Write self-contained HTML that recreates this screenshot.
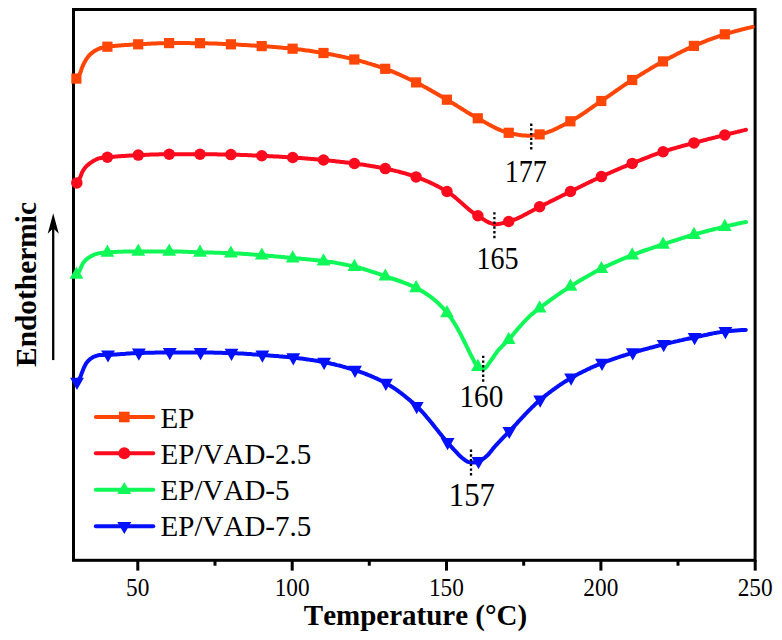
<!DOCTYPE html>
<html><head><meta charset="utf-8"><title>DSC curves</title>
<style>
html,body{margin:0;padding:0;background:#fff;}
body{width:782px;height:640px;position:relative;overflow:hidden;font-family:"Liberation Serif",serif;}
svg text{font-family:"Liberation Serif",serif;fill:#000;font-kerning:none;}
svg text.b{font-weight:bold;}
</style></head><body>
<svg width="782" height="640" viewBox="0 0 782 640" style="position:absolute;left:0;top:0">
<rect width="782" height="640" fill="#fff"/>
<rect x="73.5" y="9.5" width="681.6" height="550.8" fill="none" stroke="#000" stroke-width="3"/>
<rect x="136.3" y="560" width="3" height="10.6" fill="#000"/>
<rect x="290.7" y="560" width="3" height="10.6" fill="#000"/>
<rect x="445.0" y="560" width="3" height="10.6" fill="#000"/>
<rect x="599.4" y="560" width="3" height="10.6" fill="#000"/>
<rect x="753.7" y="560" width="3" height="10.6" fill="#000"/>
<rect x="213.5" y="560" width="3" height="5.7" fill="#000"/>
<rect x="367.8" y="560" width="3" height="5.7" fill="#000"/>
<rect x="522.2" y="560" width="3" height="5.7" fill="#000"/>
<rect x="676.5" y="560" width="3" height="5.7" fill="#000"/>
<text transform="translate(137.7,596.1) scale(0.935,1)" font-size="24.9" text-anchor="middle" class="s">50</text>
<text transform="translate(292.1,596.1) scale(0.935,1)" font-size="24.9" text-anchor="middle" class="s">100</text>
<text transform="translate(446.4,596.1) scale(0.935,1)" font-size="24.9" text-anchor="middle" class="s">150</text>
<text transform="translate(600.8,596.1) scale(0.935,1)" font-size="24.9" text-anchor="middle" class="s">200</text>
<text transform="translate(755.1,596.1) scale(0.935,1)" font-size="24.9" text-anchor="middle" class="s">250</text>
<path d="M76.4,78.6 L77.4,77.4 L78.3,76.2 L79.1,74.9 L79.8,73.6 L80.5,72.3 L81.0,70.9 L81.4,69.4 L81.9,68.0 L82.5,66.6 L83.1,65.2 L83.7,63.9 L84.4,62.5 L85.2,61.2 L85.9,59.9 L86.7,58.6 L87.6,57.4 L88.5,56.2 L89.5,55.1 L90.6,54.0 L91.7,53.1 L92.9,52.1 L94.2,51.3 L95.5,50.5 L96.8,49.8 L98.1,49.1 L99.5,48.5 L100.9,48.0 L102.4,47.6 L103.8,47.3 L105.3,47.0 L106.8,46.8 L108.3,46.6 L109.8,46.4 L111.3,46.3 L112.8,46.1 L114.3,46.0 L115.8,45.8 L117.3,45.7 L118.8,45.5 L120.3,45.4 L121.8,45.3 L123.3,45.2 L124.8,45.1 L126.3,45.0 L127.8,44.9 L129.3,44.8 L130.8,44.7 L132.3,44.6 L133.8,44.5 L135.3,44.5 L136.8,44.4 L138.3,44.3 L139.8,44.2 L141.3,44.1 L142.8,44.1 L144.3,44.0 L145.8,43.9 L147.3,43.8 L148.8,43.7 L150.3,43.7 L151.8,43.6 L153.3,43.5 L154.8,43.5 L156.3,43.4 L157.8,43.3 L159.3,43.3 L160.8,43.2 L162.3,43.2 L163.8,43.2 L165.3,43.1 L166.8,43.1 L168.3,43.1 L169.8,43.1 L171.3,43.1 L172.9,43.1 L174.4,43.1 L175.9,43.1 L177.4,43.1 L178.9,43.1 L180.4,43.1 L181.9,43.1 L183.4,43.1 L184.9,43.1 L186.4,43.1 L187.9,43.1 L189.4,43.1 L190.9,43.2 L192.4,43.2 L193.9,43.2 L195.4,43.2 L196.9,43.2 L198.4,43.2 L199.9,43.2 L201.4,43.2 L202.9,43.2 L204.4,43.3 L205.9,43.3 L207.4,43.3 L208.9,43.4 L210.4,43.4 L211.9,43.5 L213.4,43.5 L215.0,43.6 L216.5,43.6 L218.0,43.7 L219.5,43.8 L221.0,43.8 L222.5,43.9 L224.0,44.0 L225.5,44.1 L227.0,44.1 L228.5,44.2 L230.0,44.3 L231.5,44.3 L233.0,44.4 L234.5,44.5 L236.0,44.5 L237.5,44.6 L239.0,44.7 L240.5,44.8 L242.0,44.9 L243.5,44.9 L245.0,45.0 L246.5,45.1 L248.0,45.2 L249.5,45.3 L251.0,45.4 L252.5,45.5 L254.0,45.6 L255.5,45.7 L257.0,45.8 L258.5,45.9 L260.0,46.0 L261.5,46.1 L263.0,46.2 L264.5,46.3 L266.0,46.4 L267.5,46.5 L269.0,46.6 L270.5,46.7 L272.0,46.8 L273.5,47.0 L275.0,47.1 L276.5,47.2 L278.0,47.3 L279.5,47.5 L281.0,47.6 L282.5,47.7 L284.0,47.9 L285.5,48.0 L287.0,48.1 L288.5,48.3 L290.0,48.4 L291.5,48.6 L293.0,48.7 L294.5,48.9 L296.0,49.1 L297.5,49.2 L298.9,49.4 L300.4,49.6 L301.9,49.8 L303.4,50.0 L304.9,50.2 L306.4,50.4 L307.9,50.6 L309.4,50.8 L310.9,51.0 L312.4,51.2 L313.9,51.5 L315.3,51.7 L316.8,51.9 L318.3,52.2 L319.8,52.4 L321.3,52.6 L322.8,52.9 L324.2,53.1 L325.7,53.4 L327.2,53.7 L328.7,53.9 L330.2,54.2 L331.6,54.5 L333.1,54.8 L334.6,55.1 L336.1,55.4 L337.5,55.7 L339.0,56.0 L340.5,56.3 L342.0,56.6 L343.4,56.9 L344.9,57.3 L346.4,57.6 L347.8,57.9 L349.3,58.3 L350.8,58.6 L352.2,59.0 L353.7,59.3 L355.1,59.7 L356.6,60.1 L358.0,60.4 L359.5,60.8 L360.9,61.2 L362.4,61.6 L363.9,62.0 L365.3,62.4 L366.8,62.8 L368.2,63.3 L369.6,63.7 L371.1,64.1 L372.5,64.6 L374.0,65.0 L375.4,65.5 L376.8,65.9 L378.3,66.4 L379.7,66.9 L381.1,67.4 L382.5,67.9 L383.9,68.4 L385.4,68.9 L386.8,69.4 L388.2,69.9 L389.6,70.4 L391.0,71.0 L392.4,71.5 L393.7,72.1 L395.1,72.7 L396.5,73.3 L397.9,73.9 L399.3,74.5 L400.7,75.1 L402.0,75.7 L403.4,76.4 L404.8,77.0 L406.1,77.6 L407.5,78.3 L408.9,78.9 L410.2,79.6 L411.6,80.2 L412.9,80.9 L414.3,81.6 L415.6,82.2 L417.0,82.9 L418.3,83.6 L419.6,84.2 L421.0,84.9 L422.3,85.6 L423.6,86.4 L424.9,87.1 L426.3,87.8 L427.6,88.5 L428.9,89.3 L430.2,90.0 L431.5,90.7 L432.8,91.5 L434.1,92.2 L435.4,93.0 L436.7,93.8 L438.0,94.5 L439.3,95.3 L440.6,96.0 L441.9,96.8 L443.2,97.6 L444.5,98.3 L445.8,99.1 L447.1,99.8 L448.4,100.6 L449.7,101.4 L451.0,102.1 L452.3,102.9 L453.6,103.7 L454.8,104.5 L456.1,105.3 L457.4,106.1 L458.7,106.9 L460.0,107.7 L461.2,108.5 L462.5,109.3 L463.8,110.1 L465.1,110.9 L466.3,111.7 L467.6,112.5 L468.9,113.2 L470.2,114.0 L471.5,114.8 L472.8,115.5 L474.1,116.3 L475.4,117.0 L476.7,117.7 L478.0,118.4 L479.4,119.1 L480.7,119.9 L482.0,120.6 L483.4,121.4 L484.7,122.1 L486.0,122.9 L487.3,123.6 L488.7,124.4 L490.0,125.1 L491.4,125.8 L492.7,126.5 L494.1,127.2 L495.4,127.9 L496.8,128.6 L498.2,129.2 L499.6,129.8 L500.9,130.4 L502.3,130.9 L503.7,131.4 L505.1,131.9 L506.5,132.3 L508.0,132.7 L509.4,133.0 L510.8,133.3 L512.3,133.6 L513.8,133.9 L515.2,134.2 L516.7,134.5 L518.2,134.8 L519.7,135.0 L521.2,135.2 L522.7,135.4 L524.3,135.6 L525.8,135.6 L527.3,135.7 L528.7,135.7 L530.3,135.6 L531.8,135.5 L533.3,135.3 L534.8,135.1 L536.3,134.9 L537.8,134.7 L539.2,134.4 L540.7,134.2 L542.1,133.9 L543.5,133.5 L545.0,133.1 L546.4,132.7 L547.8,132.2 L549.2,131.7 L550.6,131.1 L552.0,130.6 L553.4,130.0 L554.8,129.3 L556.2,128.7 L557.6,128.0 L559.0,127.3 L560.3,126.6 L561.7,125.9 L563.0,125.2 L564.4,124.5 L565.7,123.8 L567.1,123.1 L568.4,122.3 L569.7,121.7 L571.0,121.0 L572.4,120.3 L573.7,119.5 L574.9,118.8 L576.2,118.0 L577.5,117.2 L578.8,116.5 L580.0,115.6 L581.3,114.8 L582.6,114.0 L583.8,113.2 L585.1,112.3 L586.3,111.5 L587.5,110.6 L588.8,109.7 L590.0,108.9 L591.3,108.0 L592.5,107.1 L593.7,106.2 L595.0,105.4 L596.2,104.5 L597.4,103.6 L598.7,102.8 L599.9,101.9 L601.2,101.1 L602.4,100.2 L603.7,99.4 L604.9,98.6 L606.2,97.7 L607.4,96.9 L608.6,96.0 L609.9,95.1 L611.1,94.3 L612.3,93.4 L613.6,92.6 L614.8,91.7 L616.0,90.8 L617.3,90.0 L618.5,89.1 L619.7,88.3 L621.0,87.4 L622.2,86.6 L623.5,85.7 L624.7,84.9 L626.0,84.0 L627.2,83.2 L628.5,82.4 L629.7,81.5 L631.0,80.7 L632.2,79.9 L633.5,79.1 L634.8,78.3 L636.0,77.5 L637.3,76.7 L638.6,75.9 L639.9,75.1 L641.1,74.3 L642.4,73.5 L643.7,72.7 L645.0,71.9 L646.3,71.1 L647.6,70.4 L648.9,69.6 L650.1,68.8 L651.4,68.0 L652.7,67.3 L654.0,66.5 L655.3,65.8 L656.6,65.0 L657.9,64.3 L659.3,63.5 L660.6,62.8 L661.9,62.1 L663.2,61.3 L664.5,60.6 L665.8,59.9 L667.1,59.2 L668.5,58.5 L669.8,57.8 L671.1,57.1 L672.5,56.4 L673.8,55.7 L675.1,55.0 L676.5,54.3 L677.8,53.6 L679.2,52.9 L680.5,52.2 L681.8,51.5 L683.2,50.9 L684.6,50.2 L685.9,49.6 L687.3,48.9 L688.6,48.3 L690.0,47.7 L691.4,47.1 L692.7,46.5 L694.1,45.9 L695.5,45.3 L696.9,44.7 L698.3,44.1 L699.6,43.5 L701.0,43.0 L702.4,42.4 L703.8,41.8 L705.2,41.3 L706.6,40.7 L708.0,40.2 L709.4,39.6 L710.9,39.1 L712.3,38.6 L713.7,38.1 L715.1,37.6 L716.5,37.1 L717.9,36.6 L719.4,36.1 L720.8,35.6 L722.2,35.1 L723.7,34.7 L725.1,34.2 L726.5,33.8 L728.0,33.4 L729.4,32.9 L730.8,32.5 L732.3,32.1 L733.7,31.7 L735.2,31.3 L736.6,30.9 L738.1,30.5 L739.5,30.1 L741.0,29.7 L742.4,29.3 L743.9,29.0 L745.4,28.6 L746.8,28.2 L748.3,27.9 L749.8,27.6 L751.2,27.2 L752.7,26.9" fill="none" stroke="#FF4606" stroke-width="4.0" stroke-linejoin="round" stroke-linecap="round"/>
<rect x="71.3" y="73.5" width="10.2" height="10.2" fill="#FF4606"/>
<rect x="102.3" y="41.6" width="10.2" height="10.2" fill="#FF4606"/>
<rect x="133.1" y="39.2" width="10.2" height="10.2" fill="#FF4606"/>
<rect x="164.0" y="38.0" width="10.2" height="10.2" fill="#FF4606"/>
<rect x="194.9" y="38.1" width="10.2" height="10.2" fill="#FF4606"/>
<rect x="225.8" y="39.2" width="10.2" height="10.2" fill="#FF4606"/>
<rect x="256.6" y="41.0" width="10.2" height="10.2" fill="#FF4606"/>
<rect x="287.5" y="43.6" width="10.2" height="10.2" fill="#FF4606"/>
<rect x="318.4" y="47.9" width="10.2" height="10.2" fill="#FF4606"/>
<rect x="349.2" y="54.4" width="10.2" height="10.2" fill="#FF4606"/>
<rect x="380.1" y="63.7" width="10.2" height="10.2" fill="#FF4606"/>
<rect x="411.0" y="77.3" width="10.2" height="10.2" fill="#FF4606"/>
<rect x="441.8" y="94.6" width="10.2" height="10.2" fill="#FF4606"/>
<rect x="472.7" y="113.2" width="10.2" height="10.2" fill="#FF4606"/>
<rect x="503.6" y="127.7" width="10.2" height="10.2" fill="#FF4606"/>
<rect x="534.5" y="129.3" width="10.2" height="10.2" fill="#FF4606"/>
<rect x="565.3" y="116.2" width="10.2" height="10.2" fill="#FF4606"/>
<rect x="596.2" y="95.9" width="10.2" height="10.2" fill="#FF4606"/>
<rect x="627.1" y="74.9" width="10.2" height="10.2" fill="#FF4606"/>
<rect x="657.9" y="56.3" width="10.2" height="10.2" fill="#FF4606"/>
<rect x="688.8" y="40.8" width="10.2" height="10.2" fill="#FF4606"/>
<rect x="719.7" y="29.2" width="10.2" height="10.2" fill="#FF4606"/>
<path d="M76.8,182.9 L77.7,181.7 L78.5,180.4 L79.3,179.1 L80.0,177.8 L80.6,176.4 L81.1,175.0 L81.6,173.5 L82.2,172.2 L82.9,170.9 L83.7,169.6 L84.6,168.3 L85.5,167.2 L86.6,166.1 L87.7,165.1 L88.9,164.1 L90.0,163.2 L91.3,162.3 L92.5,161.5 L93.8,160.7 L95.2,160.0 L96.5,159.3 L97.9,158.7 L99.3,158.3 L100.8,158.0 L102.3,157.7 L103.8,157.5 L105.3,157.3 L106.8,157.2 L108.3,157.1 L109.8,157.0 L111.3,156.9 L112.8,156.8 L114.3,156.7 L115.8,156.6 L117.3,156.5 L118.8,156.3 L120.3,156.2 L121.8,156.1 L123.3,156.0 L124.8,155.9 L126.3,155.8 L127.8,155.7 L129.3,155.6 L130.8,155.5 L132.3,155.4 L133.8,155.3 L135.3,155.2 L136.8,155.2 L138.3,155.1 L139.8,155.0 L141.3,155.0 L142.9,154.9 L144.4,154.9 L145.9,154.8 L147.4,154.7 L148.9,154.7 L150.4,154.6 L151.9,154.6 L153.4,154.5 L154.9,154.5 L156.4,154.4 L157.9,154.4 L159.4,154.3 L160.9,154.3 L162.4,154.3 L163.9,154.2 L165.4,154.2 L166.9,154.2 L168.4,154.2 L169.9,154.2 L171.5,154.2 L173.0,154.2 L174.5,154.2 L176.0,154.2 L177.5,154.2 L179.0,154.2 L180.5,154.2 L182.0,154.2 L183.5,154.2 L185.0,154.2 L186.5,154.2 L188.0,154.2 L189.5,154.2 L191.0,154.2 L192.5,154.2 L194.0,154.2 L195.5,154.2 L197.1,154.2 L198.6,154.2 L200.1,154.2 L201.6,154.2 L203.1,154.2 L204.6,154.2 L206.1,154.2 L207.6,154.2 L209.1,154.2 L210.6,154.3 L212.1,154.3 L213.6,154.3 L215.1,154.3 L216.6,154.3 L218.1,154.4 L219.6,154.4 L221.1,154.4 L222.6,154.4 L224.2,154.5 L225.7,154.5 L227.2,154.5 L228.7,154.6 L230.2,154.6 L231.7,154.6 L233.2,154.6 L234.7,154.7 L236.2,154.7 L237.7,154.8 L239.2,154.8 L240.7,154.9 L242.2,154.9 L243.7,155.0 L245.2,155.1 L246.7,155.1 L248.2,155.2 L249.7,155.2 L251.2,155.3 L252.7,155.4 L254.3,155.5 L255.8,155.5 L257.3,155.6 L258.8,155.7 L260.3,155.7 L261.8,155.8 L263.3,155.9 L264.8,155.9 L266.3,156.0 L267.8,156.1 L269.3,156.2 L270.8,156.2 L272.3,156.3 L273.8,156.4 L275.3,156.5 L276.8,156.5 L278.3,156.6 L279.8,156.7 L281.3,156.8 L282.8,156.9 L284.3,157.0 L285.8,157.1 L287.3,157.2 L288.8,157.3 L290.3,157.3 L291.8,157.4 L293.3,157.5 L294.9,157.6 L296.4,157.7 L297.9,157.9 L299.4,158.0 L300.9,158.1 L302.4,158.2 L303.9,158.3 L305.4,158.4 L306.9,158.5 L308.4,158.7 L309.9,158.8 L311.4,158.9 L312.9,159.0 L314.4,159.2 L315.9,159.3 L317.4,159.4 L318.9,159.6 L320.4,159.7 L321.9,159.8 L323.4,160.0 L324.9,160.1 L326.4,160.3 L327.9,160.4 L329.4,160.6 L330.9,160.7 L332.4,160.9 L333.9,161.0 L335.4,161.2 L336.8,161.4 L338.3,161.5 L339.8,161.7 L341.3,161.9 L342.8,162.0 L344.3,162.2 L345.8,162.4 L347.3,162.6 L348.8,162.8 L350.3,163.0 L351.8,163.2 L353.3,163.4 L354.8,163.6 L356.3,163.8 L357.8,164.0 L359.3,164.2 L360.8,164.4 L362.2,164.6 L363.7,164.8 L365.2,165.0 L366.7,165.3 L368.2,165.5 L369.7,165.8 L371.2,166.0 L372.7,166.2 L374.2,166.5 L375.6,166.8 L377.1,167.0 L378.6,167.3 L380.1,167.6 L381.6,167.9 L383.0,168.1 L384.5,168.4 L386.0,168.7 L387.4,169.0 L388.9,169.4 L390.4,169.7 L391.9,170.0 L393.3,170.4 L394.8,170.7 L396.3,171.1 L397.7,171.4 L399.2,171.8 L400.7,172.2 L402.1,172.6 L403.6,173.0 L405.0,173.4 L406.5,173.8 L407.9,174.3 L409.4,174.7 L410.8,175.2 L412.2,175.6 L413.7,176.1 L415.1,176.6 L416.5,177.0 L417.9,177.5 L419.3,178.0 L420.7,178.6 L422.1,179.1 L423.5,179.7 L424.9,180.3 L426.3,180.9 L427.7,181.5 L429.1,182.1 L430.5,182.7 L431.8,183.4 L433.2,184.0 L434.6,184.7 L435.9,185.4 L437.3,186.1 L438.6,186.8 L440.0,187.5 L441.3,188.2 L442.6,188.9 L443.9,189.7 L445.2,190.4 L446.5,191.2 L447.7,191.9 L449.0,192.7 L450.2,193.6 L451.4,194.5 L452.6,195.4 L453.8,196.3 L455.0,197.2 L456.1,198.2 L457.3,199.2 L458.4,200.2 L459.6,201.2 L460.7,202.2 L461.9,203.2 L463.0,204.3 L464.1,205.3 L465.3,206.3 L466.4,207.3 L467.6,208.3 L468.7,209.3 L469.9,210.2 L471.1,211.2 L472.3,212.1 L473.5,213.0 L474.7,213.8 L475.9,214.7 L477.2,215.4 L478.5,216.2 L479.8,217.0 L481.1,217.8 L482.4,218.7 L483.7,219.5 L485.1,220.4 L486.5,221.2 L487.8,221.9 L489.2,222.6 L490.6,223.2 L492.0,223.6 L493.4,224.0 L494.8,224.2 L496.3,224.2 L497.7,224.1 L499.2,223.9 L500.7,223.6 L502.2,223.3 L503.7,222.9 L505.2,222.5 L506.7,222.1 L508.1,221.7 L509.5,221.3 L510.9,220.9 L512.3,220.4 L513.7,219.9 L515.1,219.3 L516.5,218.8 L517.9,218.2 L519.2,217.5 L520.6,216.9 L522.0,216.2 L523.3,215.5 L524.6,214.8 L526.0,214.1 L527.3,213.4 L528.7,212.6 L530.0,211.9 L531.3,211.2 L532.7,210.4 L534.0,209.7 L535.4,209.0 L536.7,208.3 L538.1,207.6 L539.4,206.9 L540.8,206.3 L542.1,205.6 L543.5,205.0 L544.8,204.3 L546.2,203.6 L547.5,203.0 L548.9,202.3 L550.2,201.6 L551.6,200.9 L552.9,200.3 L554.3,199.6 L555.6,198.9 L556.9,198.2 L558.3,197.6 L559.6,196.9 L561.0,196.2 L562.3,195.5 L563.7,194.9 L565.0,194.2 L566.4,193.5 L567.7,192.9 L569.1,192.2 L570.4,191.5 L571.8,190.9 L573.1,190.2 L574.5,189.5 L575.8,188.9 L577.2,188.2 L578.5,187.5 L579.9,186.9 L581.2,186.2 L582.6,185.5 L583.9,184.9 L585.3,184.2 L586.6,183.5 L588.0,182.9 L589.3,182.2 L590.7,181.6 L592.1,180.9 L593.4,180.3 L594.8,179.6 L596.1,179.0 L597.5,178.3 L598.9,177.7 L600.2,177.1 L601.6,176.5 L603.0,175.8 L604.4,175.2 L605.7,174.6 L607.1,174.0 L608.5,173.4 L609.9,172.8 L611.2,172.2 L612.6,171.6 L614.0,171.0 L615.4,170.4 L616.8,169.8 L618.2,169.2 L619.5,168.6 L620.9,168.0 L622.3,167.4 L623.7,166.9 L625.1,166.3 L626.5,165.7 L627.9,165.1 L629.3,164.6 L630.7,164.0 L632.1,163.5 L633.5,162.9 L634.9,162.3 L636.3,161.8 L637.7,161.2 L639.1,160.6 L640.5,160.1 L641.9,159.5 L643.3,159.0 L644.7,158.4 L646.1,157.9 L647.5,157.3 L648.9,156.8 L650.3,156.2 L651.7,155.7 L653.1,155.2 L654.5,154.7 L655.9,154.2 L657.4,153.7 L658.8,153.2 L660.2,152.7 L661.6,152.2 L663.1,151.7 L664.5,151.3 L665.9,150.8 L667.3,150.4 L668.8,149.9 L670.2,149.5 L671.7,149.0 L673.1,148.6 L674.6,148.2 L676.0,147.8 L677.5,147.4 L678.9,147.0 L680.4,146.6 L681.8,146.2 L683.3,145.8 L684.7,145.4 L686.2,145.0 L687.6,144.6 L689.1,144.2 L690.5,143.8 L692.0,143.4 L693.5,143.0 L694.9,142.6 L696.4,142.2 L697.8,141.9 L699.3,141.5 L700.7,141.1 L702.2,140.7 L703.6,140.3 L705.1,140.0 L706.6,139.6 L708.0,139.2 L709.5,138.8 L710.9,138.5 L712.4,138.1 L713.9,137.7 L715.3,137.4 L716.8,137.0 L718.2,136.6 L719.7,136.3 L721.2,135.9 L722.6,135.5 L724.1,135.2 L725.5,134.8 L727.0,134.4 L728.5,134.1 L729.9,133.7 L731.4,133.3 L732.8,133.0 L734.3,132.6 L735.8,132.2 L737.2,131.9 L738.7,131.5 L740.2,131.2 L741.6,130.8 L743.1,130.4 L744.5,130.1 L746.0,129.7" fill="none" stroke="#FC0A1E" stroke-width="4.0" stroke-linejoin="round" stroke-linecap="round"/>
<circle cx="76.8" cy="182.9" r="5.75" fill="#FC0A1E"/>
<circle cx="107.4" cy="157.2" r="5.75" fill="#FC0A1E"/>
<circle cx="138.3" cy="155.1" r="5.75" fill="#FC0A1E"/>
<circle cx="169.2" cy="154.2" r="5.75" fill="#FC0A1E"/>
<circle cx="200.0" cy="154.2" r="5.75" fill="#FC0A1E"/>
<circle cx="230.9" cy="154.6" r="5.75" fill="#FC0A1E"/>
<circle cx="261.8" cy="155.8" r="5.75" fill="#FC0A1E"/>
<circle cx="292.7" cy="157.5" r="5.75" fill="#FC0A1E"/>
<circle cx="323.5" cy="160.0" r="5.75" fill="#FC0A1E"/>
<circle cx="354.4" cy="163.5" r="5.75" fill="#FC0A1E"/>
<circle cx="385.3" cy="168.6" r="5.75" fill="#FC0A1E"/>
<circle cx="416.1" cy="176.9" r="5.75" fill="#FC0A1E"/>
<circle cx="447.0" cy="191.5" r="5.75" fill="#FC0A1E"/>
<circle cx="477.9" cy="215.8" r="5.75" fill="#FC0A1E"/>
<circle cx="508.7" cy="221.5" r="5.75" fill="#FC0A1E"/>
<circle cx="539.6" cy="206.8" r="5.75" fill="#FC0A1E"/>
<circle cx="570.5" cy="191.5" r="5.75" fill="#FC0A1E"/>
<circle cx="601.4" cy="176.6" r="5.75" fill="#FC0A1E"/>
<circle cx="632.2" cy="163.4" r="5.75" fill="#FC0A1E"/>
<circle cx="663.1" cy="151.7" r="5.75" fill="#FC0A1E"/>
<circle cx="694.0" cy="142.9" r="5.75" fill="#FC0A1E"/>
<circle cx="724.8" cy="135.0" r="5.75" fill="#FC0A1E"/>
<path d="M76.5,274.3 L77.7,273.3 L78.7,272.2 L79.4,271.0 L80.1,269.6 L80.7,268.2 L81.3,266.8 L81.9,265.4 L82.6,264.0 L83.3,262.8 L84.2,261.6 L85.3,260.5 L86.4,259.4 L87.5,258.5 L88.8,257.6 L90.0,256.8 L91.4,256.1 L92.7,255.4 L94.1,254.7 L95.5,254.2 L96.9,253.8 L98.4,253.4 L99.9,253.1 L101.4,252.9 L102.8,252.7 L104.3,252.5 L105.8,252.4 L107.4,252.3 L108.9,252.2 L110.4,252.2 L111.9,252.1 L113.4,252.0 L114.9,252.0 L116.4,251.9 L117.9,251.8 L119.4,251.8 L120.9,251.7 L122.4,251.7 L123.9,251.6 L125.4,251.6 L126.9,251.5 L128.4,251.5 L129.9,251.5 L131.4,251.5 L132.9,251.4 L134.4,251.4 L135.9,251.4 L137.5,251.4 L139.0,251.4 L140.5,251.4 L142.0,251.4 L143.5,251.4 L145.0,251.4 L146.5,251.4 L148.0,251.4 L149.5,251.4 L151.0,251.4 L152.5,251.4 L154.0,251.4 L155.5,251.4 L157.0,251.4 L158.5,251.4 L160.0,251.4 L161.5,251.4 L163.1,251.4 L164.6,251.4 L166.1,251.4 L167.6,251.4 L169.1,251.4 L170.6,251.4 L172.1,251.4 L173.6,251.4 L175.1,251.5 L176.6,251.5 L178.1,251.5 L179.6,251.6 L181.1,251.6 L182.6,251.7 L184.1,251.7 L185.6,251.8 L187.1,251.8 L188.6,251.9 L190.1,251.9 L191.7,252.0 L193.2,252.1 L194.7,252.1 L196.2,252.2 L197.7,252.2 L199.2,252.3 L200.7,252.3 L202.2,252.4 L203.7,252.4 L205.2,252.4 L206.7,252.5 L208.2,252.5 L209.7,252.6 L211.2,252.6 L212.7,252.6 L214.2,252.7 L215.7,252.7 L217.2,252.8 L218.7,252.8 L220.3,252.8 L221.8,252.9 L223.3,252.9 L224.8,253.0 L226.3,253.0 L227.8,253.1 L229.3,253.1 L230.8,253.2 L232.3,253.3 L233.8,253.3 L235.3,253.4 L236.8,253.5 L238.3,253.6 L239.8,253.6 L241.3,253.7 L242.8,253.8 L244.3,253.9 L245.8,254.0 L247.3,254.1 L248.8,254.2 L250.3,254.3 L251.8,254.5 L253.3,254.6 L254.8,254.7 L256.3,254.8 L257.8,254.9 L259.3,255.0 L260.8,255.1 L262.3,255.2 L263.8,255.4 L265.3,255.5 L266.8,255.6 L268.3,255.7 L269.8,255.9 L271.3,256.0 L272.8,256.1 L274.3,256.3 L275.8,256.4 L277.3,256.5 L278.8,256.7 L280.3,256.8 L281.8,257.0 L283.3,257.1 L284.8,257.3 L286.3,257.4 L287.8,257.5 L289.3,257.7 L290.8,257.8 L292.3,258.0 L293.8,258.1 L295.3,258.2 L296.8,258.4 L298.3,258.5 L299.8,258.6 L301.3,258.8 L302.8,258.9 L304.3,259.0 L305.8,259.2 L307.3,259.3 L308.8,259.4 L310.3,259.6 L311.8,259.7 L313.3,259.9 L314.8,260.0 L316.3,260.2 L317.8,260.3 L319.3,260.5 L320.8,260.7 L322.3,260.9 L323.8,261.0 L325.3,261.2 L326.8,261.4 L328.3,261.7 L329.8,261.9 L331.3,262.1 L332.7,262.3 L334.2,262.6 L335.7,262.8 L337.2,263.1 L338.7,263.4 L340.2,263.6 L341.7,263.9 L343.1,264.2 L344.6,264.5 L346.1,264.8 L347.6,265.1 L349.1,265.4 L350.5,265.7 L352.0,266.1 L353.5,266.4 L354.9,266.7 L356.4,267.1 L357.8,267.4 L359.3,267.8 L360.7,268.2 L362.2,268.6 L363.6,269.0 L365.1,269.5 L366.5,269.9 L367.9,270.4 L369.4,270.8 L370.8,271.3 L372.3,271.8 L373.7,272.2 L375.1,272.7 L376.5,273.2 L378.0,273.7 L379.4,274.2 L380.8,274.7 L382.3,275.2 L383.7,275.6 L385.1,276.1 L386.5,276.6 L388.0,277.1 L389.4,277.6 L390.8,278.1 L392.3,278.5 L393.7,279.0 L395.1,279.5 L396.5,280.0 L398.0,280.5 L399.4,281.0 L400.8,281.5 L402.2,282.0 L403.7,282.6 L405.1,283.1 L406.5,283.6 L407.9,284.2 L409.3,284.8 L410.7,285.3 L412.0,285.9 L413.4,286.5 L414.8,287.2 L416.1,287.8 L417.4,288.5 L418.8,289.2 L420.1,289.9 L421.4,290.7 L422.7,291.5 L423.9,292.3 L425.2,293.1 L426.5,294.0 L427.7,294.8 L429.0,295.7 L430.2,296.5 L431.4,297.4 L432.6,298.4 L433.8,299.3 L434.9,300.3 L436.0,301.2 L437.2,302.2 L438.3,303.3 L439.4,304.3 L440.4,305.4 L441.5,306.4 L442.5,307.5 L443.5,308.7 L444.5,309.8 L445.5,311.0 L446.5,312.1 L447.4,313.3 L448.3,314.5 L449.2,315.7 L450.1,316.9 L451.0,318.1 L451.9,319.4 L452.7,320.6 L453.5,321.9 L454.3,323.1 L455.1,324.4 L455.9,325.7 L456.7,327.0 L457.4,328.3 L458.1,329.6 L458.8,331.0 L459.6,332.3 L460.3,333.6 L461.0,334.9 L461.7,336.3 L462.3,337.6 L463.0,339.0 L463.7,340.3 L464.3,341.7 L465.0,343.0 L465.7,344.4 L466.3,345.7 L467.0,347.1 L467.7,348.4 L468.3,349.8 L469.0,351.2 L469.6,352.5 L470.3,353.9 L471.0,355.2 L471.7,356.5 L472.4,357.9 L473.1,359.2 L473.8,360.6 L474.5,362.0 L475.2,363.4 L476.0,364.6 L476.9,365.7 L478.0,366.7 L479.3,367.7 L480.7,368.6 L482.1,369.1 L483.3,369.2 L484.4,368.7 L485.5,367.9 L486.6,366.7 L487.6,365.4 L488.6,363.9 L489.5,362.5 L490.5,361.1 L491.4,359.9 L492.3,358.7 L493.2,357.5 L494.1,356.2 L494.9,354.9 L495.7,353.7 L496.6,352.5 L497.5,351.2 L498.4,350.1 L499.4,349.0 L500.5,347.9 L501.5,346.8 L502.6,345.7 L503.7,344.7 L504.7,343.6 L505.8,342.6 L506.9,341.5 L508.0,340.4 L509.0,339.3 L510.0,338.2 L511.0,337.1 L512.0,335.9 L512.9,334.8 L513.9,333.6 L514.8,332.4 L515.8,331.3 L516.8,330.1 L517.7,329.0 L518.7,327.8 L519.7,326.7 L520.7,325.6 L521.7,324.5 L522.7,323.3 L523.7,322.2 L524.8,321.1 L525.8,320.0 L526.8,318.9 L527.9,317.9 L529.0,316.8 L530.1,315.8 L531.2,314.8 L532.3,313.8 L533.5,312.9 L534.7,311.9 L535.9,311.0 L537.1,310.0 L538.2,309.1 L539.4,308.2 L540.6,307.3 L541.8,306.4 L543.0,305.5 L544.2,304.6 L545.4,303.7 L546.7,302.8 L547.9,301.9 L549.1,301.0 L550.3,300.1 L551.5,299.2 L552.8,298.3 L554.0,297.5 L555.2,296.6 L556.5,295.7 L557.7,294.9 L558.9,294.0 L560.2,293.2 L561.4,292.3 L562.7,291.5 L563.9,290.7 L565.2,289.8 L566.5,289.0 L567.7,288.2 L569.0,287.4 L570.2,286.6 L571.5,285.8 L572.8,285.0 L574.1,284.2 L575.3,283.4 L576.6,282.6 L577.9,281.8 L579.2,281.0 L580.5,280.2 L581.8,279.5 L583.1,278.7 L584.4,277.9 L585.7,277.2 L587.0,276.4 L588.3,275.7 L589.6,274.9 L590.9,274.2 L592.3,273.4 L593.6,272.7 L594.9,272.0 L596.2,271.3 L597.6,270.6 L598.9,269.9 L600.2,269.2 L601.6,268.6 L602.9,267.9 L604.3,267.2 L605.6,266.6 L607.0,265.9 L608.3,265.3 L609.7,264.7 L611.1,264.0 L612.4,263.4 L613.8,262.8 L615.2,262.2 L616.6,261.6 L618.0,261.0 L619.4,260.4 L620.7,259.8 L622.1,259.2 L623.5,258.6 L624.9,258.0 L626.3,257.4 L627.7,256.9 L629.1,256.3 L630.5,255.8 L631.9,255.2 L633.3,254.7 L634.7,254.1 L636.1,253.6 L637.5,253.1 L638.9,252.6 L640.3,252.0 L641.8,251.5 L643.2,251.0 L644.6,250.5 L646.0,250.0 L647.5,249.5 L648.9,249.1 L650.3,248.6 L651.7,248.1 L653.2,247.6 L654.6,247.1 L656.0,246.6 L657.5,246.2 L658.9,245.7 L660.3,245.2 L661.7,244.8 L663.2,244.3 L664.6,243.8 L666.0,243.3 L667.5,242.9 L668.9,242.4 L670.3,241.9 L671.8,241.4 L673.2,241.0 L674.6,240.5 L676.0,240.1 L677.5,239.6 L678.9,239.1 L680.4,238.7 L681.8,238.2 L683.2,237.8 L684.7,237.3 L686.1,236.9 L687.6,236.5 L689.0,236.0 L690.4,235.6 L691.9,235.2 L693.3,234.8 L694.8,234.4 L696.2,233.9 L697.7,233.5 L699.1,233.1 L700.6,232.7 L702.0,232.3 L703.5,232.0 L704.9,231.6 L706.4,231.2 L707.9,230.8 L709.3,230.4 L710.8,230.0 L712.2,229.7 L713.7,229.3 L715.2,228.9 L716.6,228.6 L718.1,228.2 L719.5,227.9 L721.0,227.5 L722.5,227.2 L723.9,226.8 L725.4,226.5 L726.9,226.1 L728.3,225.8 L729.8,225.4 L731.3,225.1 L732.7,224.8 L734.2,224.5 L735.7,224.1 L737.1,223.8 L738.6,223.5 L740.1,223.2 L741.6,222.9 L743.0,222.6 L744.5,222.3 L746.0,222.0" fill="none" stroke="#10F858" stroke-width="4.0" stroke-linejoin="round" stroke-linecap="round"/>
<path d="M76.5,266.5 L83.4,278.7 L69.6,278.7Z" fill="#10F858"/>
<path d="M107.4,244.5 L114.3,256.7 L100.5,256.7Z" fill="#10F858"/>
<path d="M138.3,243.6 L145.2,255.8 L131.4,255.8Z" fill="#10F858"/>
<path d="M169.2,243.6 L176.1,255.8 L162.3,255.8Z" fill="#10F858"/>
<path d="M200.0,244.5 L206.9,256.7 L193.1,256.7Z" fill="#10F858"/>
<path d="M230.9,245.4 L237.8,257.6 L224.0,257.6Z" fill="#10F858"/>
<path d="M261.8,247.4 L268.7,259.6 L254.9,259.6Z" fill="#10F858"/>
<path d="M292.7,250.2 L299.6,262.4 L285.8,262.4Z" fill="#10F858"/>
<path d="M323.5,253.2 L330.4,265.4 L316.6,265.4Z" fill="#10F858"/>
<path d="M354.4,258.8 L361.3,271.0 L347.5,271.0Z" fill="#10F858"/>
<path d="M385.3,268.4 L392.2,280.6 L378.4,280.6Z" fill="#10F858"/>
<path d="M416.1,280.0 L423.0,292.2 L409.2,292.2Z" fill="#10F858"/>
<path d="M447.0,305.0 L453.9,317.2 L440.1,317.2Z" fill="#10F858"/>
<path d="M477.9,358.8 L484.8,371.0 L471.0,371.0Z" fill="#10F858"/>
<path d="M508.7,331.8 L515.6,344.0 L501.8,344.0Z" fill="#10F858"/>
<path d="M539.6,300.3 L546.5,312.5 L532.7,312.5Z" fill="#10F858"/>
<path d="M570.5,278.6 L577.4,290.8 L563.6,290.8Z" fill="#10F858"/>
<path d="M601.4,260.9 L608.2,273.1 L594.5,273.1Z" fill="#10F858"/>
<path d="M632.2,247.3 L639.1,259.5 L625.3,259.5Z" fill="#10F858"/>
<path d="M663.1,236.5 L670.0,248.7 L656.2,248.7Z" fill="#10F858"/>
<path d="M694.0,226.8 L700.9,239.0 L687.1,239.0Z" fill="#10F858"/>
<path d="M724.8,218.8 L731.7,231.0 L717.9,231.0Z" fill="#10F858"/>
<path d="M77.0,382.2 L77.9,381.0 L78.8,379.7 L79.6,378.4 L80.2,377.1 L80.8,375.7 L81.3,374.3 L81.8,372.9 L82.4,371.5 L82.9,370.1 L83.5,368.7 L84.1,367.3 L84.8,365.9 L85.5,364.6 L86.2,363.3 L87.1,362.1 L88.1,361.0 L89.2,359.9 L90.4,358.9 L91.6,358.1 L92.9,357.3 L94.2,356.6 L95.6,356.1 L97.1,355.6 L98.5,355.2 L100.0,354.9 L101.5,354.9 L103.0,354.9 L104.5,354.8 L106.0,354.8 L107.6,354.8 L109.1,354.8 L110.6,354.7 L112.1,354.7 L113.6,354.6 L115.1,354.5 L116.6,354.4 L118.1,354.3 L119.6,354.2 L121.1,354.1 L122.6,354.0 L124.1,353.9 L125.6,353.8 L127.1,353.6 L128.6,353.5 L130.1,353.4 L131.6,353.3 L133.1,353.2 L134.6,353.2 L136.1,353.1 L137.6,353.0 L139.1,353.0 L140.6,353.0 L142.1,352.9 L143.6,352.9 L145.1,352.8 L146.6,352.8 L148.1,352.8 L149.6,352.7 L151.2,352.7 L152.7,352.7 L154.2,352.7 L155.7,352.6 L157.2,352.6 L158.7,352.6 L160.2,352.6 L161.7,352.5 L163.2,352.5 L164.7,352.5 L166.2,352.5 L167.7,352.5 L169.2,352.5 L170.7,352.5 L172.2,352.5 L173.7,352.5 L175.2,352.5 L176.8,352.5 L178.3,352.5 L179.8,352.5 L181.3,352.5 L182.8,352.5 L184.3,352.5 L185.8,352.5 L187.3,352.5 L188.8,352.5 L190.3,352.5 L191.8,352.5 L193.3,352.5 L194.8,352.5 L196.3,352.5 L197.8,352.5 L199.3,352.5 L200.8,352.5 L202.3,352.5 L203.9,352.5 L205.4,352.5 L206.9,352.5 L208.4,352.6 L209.9,352.6 L211.4,352.6 L212.9,352.6 L214.4,352.7 L215.9,352.7 L217.4,352.7 L218.9,352.8 L220.4,352.8 L221.9,352.8 L223.4,352.9 L224.9,352.9 L226.4,353.0 L227.9,353.0 L229.4,353.0 L230.9,353.1 L232.4,353.1 L234.0,353.2 L235.5,353.2 L237.0,353.3 L238.5,353.4 L240.0,353.5 L241.5,353.6 L243.0,353.6 L244.5,353.7 L246.0,353.8 L247.5,353.9 L249.0,354.0 L250.5,354.1 L252.0,354.3 L253.5,354.4 L255.0,354.5 L256.5,354.6 L258.0,354.7 L259.5,354.8 L261.0,354.9 L262.5,355.0 L264.0,355.1 L265.5,355.2 L267.0,355.3 L268.5,355.5 L270.0,355.6 L271.5,355.7 L273.0,355.8 L274.5,355.9 L276.0,356.0 L277.5,356.1 L279.0,356.3 L280.5,356.4 L282.0,356.5 L283.5,356.7 L285.0,356.8 L286.5,356.9 L288.0,357.1 L289.5,357.2 L291.0,357.4 L292.5,357.5 L294.0,357.7 L295.5,357.9 L297.0,358.0 L298.5,358.2 L300.0,358.4 L301.5,358.6 L303.0,358.8 L304.5,359.0 L306.0,359.2 L307.5,359.4 L308.9,359.6 L310.4,359.9 L311.9,360.1 L313.4,360.3 L314.9,360.6 L316.4,360.8 L317.9,361.1 L319.4,361.4 L320.8,361.6 L322.3,361.9 L323.8,362.2 L325.3,362.4 L326.7,362.7 L328.2,363.0 L329.7,363.3 L331.2,363.7 L332.6,364.0 L334.1,364.3 L335.6,364.7 L337.0,365.1 L338.5,365.4 L340.0,365.8 L341.4,366.2 L342.9,366.6 L344.3,367.0 L345.8,367.4 L347.2,367.8 L348.7,368.2 L350.1,368.6 L351.6,369.1 L353.0,369.5 L354.4,370.0 L355.8,370.4 L357.3,370.9 L358.7,371.4 L360.1,371.9 L361.5,372.4 L363.0,372.9 L364.4,373.4 L365.8,374.0 L367.2,374.5 L368.6,375.1 L370.1,375.7 L371.5,376.3 L372.9,376.9 L374.2,377.5 L375.6,378.1 L377.0,378.7 L378.4,379.4 L379.7,380.0 L381.1,380.7 L382.4,381.3 L383.7,382.0 L385.0,382.7 L386.3,383.4 L387.6,384.2 L388.9,384.9 L390.2,385.7 L391.4,386.5 L392.7,387.3 L394.0,388.1 L395.2,388.9 L396.5,389.8 L397.7,390.7 L398.9,391.6 L400.2,392.5 L401.4,393.4 L402.6,394.3 L403.8,395.3 L405.0,396.2 L406.2,397.2 L407.3,398.2 L408.5,399.1 L409.7,400.1 L410.8,401.1 L412.0,402.1 L413.1,403.1 L414.2,404.1 L415.3,405.1 L416.4,406.1 L417.5,407.1 L418.5,408.1 L419.6,409.2 L420.6,410.3 L421.7,411.3 L422.7,412.4 L423.7,413.5 L424.7,414.6 L425.7,415.8 L426.6,416.9 L427.6,418.1 L428.6,419.2 L429.5,420.4 L430.5,421.5 L431.5,422.7 L432.4,423.9 L433.4,425.1 L434.3,426.3 L435.2,427.5 L436.2,428.6 L437.1,429.8 L438.1,431.0 L439.0,432.2 L440.0,433.4 L440.9,434.6 L441.9,435.8 L442.8,436.9 L443.8,438.1 L444.8,439.3 L445.8,440.4 L446.7,441.5 L447.7,442.7 L448.7,443.8 L449.7,444.9 L450.7,446.1 L451.7,447.2 L452.7,448.3 L453.7,449.4 L454.8,450.5 L455.8,451.6 L456.8,452.7 L457.9,453.9 L458.9,455.0 L460.0,456.0 L461.1,457.0 L462.2,458.0 L463.4,458.9 L464.7,459.9 L466.0,460.8 L467.3,461.6 L468.7,462.1 L470.1,462.4 L471.5,462.5 L473.1,462.6 L474.6,462.6 L476.1,462.3 L477.6,461.9 L478.9,461.4 L480.3,460.8 L481.6,460.0 L482.8,459.2 L484.1,458.2 L485.3,457.2 L486.4,456.2 L487.5,455.2 L488.6,454.2 L489.5,453.0 L490.5,451.9 L491.4,450.7 L492.4,449.5 L493.3,448.3 L494.3,447.1 L495.3,446.0 L496.3,444.9 L497.3,443.8 L498.4,442.7 L499.4,441.6 L500.4,440.5 L501.5,439.4 L502.5,438.3 L503.6,437.2 L504.6,436.2 L505.7,435.1 L506.7,434.0 L507.8,432.9 L508.8,431.8 L509.8,430.8 L510.9,429.7 L511.9,428.6 L513.0,427.5 L514.0,426.4 L515.0,425.3 L516.1,424.2 L517.1,423.1 L518.1,421.9 L519.1,420.8 L520.2,419.7 L521.2,418.6 L522.2,417.5 L523.3,416.4 L524.3,415.3 L525.3,414.2 L526.4,413.1 L527.4,412.0 L528.5,410.9 L529.5,409.9 L530.6,408.8 L531.7,407.7 L532.7,406.7 L533.8,405.7 L534.9,404.6 L536.0,403.6 L537.1,402.6 L538.2,401.6 L539.4,400.6 L540.5,399.7 L541.6,398.7 L542.8,397.8 L544.0,396.8 L545.1,395.9 L546.3,394.9 L547.5,394.0 L548.7,393.1 L549.9,392.2 L551.1,391.3 L552.3,390.3 L553.5,389.5 L554.8,388.6 L556.0,387.7 L557.3,386.8 L558.5,385.9 L559.7,385.1 L561.0,384.3 L562.3,383.4 L563.5,382.6 L564.8,381.8 L566.1,381.0 L567.4,380.2 L568.6,379.4 L569.9,378.7 L571.2,377.9 L572.5,377.2 L573.8,376.4 L575.1,375.7 L576.4,375.0 L577.8,374.3 L579.1,373.6 L580.4,372.9 L581.8,372.2 L583.1,371.5 L584.5,370.9 L585.9,370.2 L587.2,369.5 L588.6,368.9 L590.0,368.3 L591.3,367.6 L592.7,367.0 L594.1,366.4 L595.5,365.8 L596.9,365.2 L598.3,364.6 L599.7,364.1 L601.0,363.5 L602.4,362.9 L603.8,362.4 L605.2,361.9 L606.6,361.3 L608.1,360.8 L609.5,360.3 L610.9,359.8 L612.3,359.3 L613.7,358.8 L615.2,358.3 L616.6,357.8 L618.0,357.4 L619.5,356.9 L620.9,356.4 L622.3,356.0 L623.8,355.5 L625.2,355.1 L626.6,354.6 L628.1,354.2 L629.5,353.7 L631.0,353.3 L632.4,352.9 L633.8,352.4 L635.3,352.0 L636.7,351.6 L638.2,351.2 L639.6,350.7 L641.1,350.3 L642.5,349.9 L644.0,349.5 L645.4,349.1 L646.9,348.7 L648.3,348.3 L649.8,347.9 L651.2,347.5 L652.7,347.2 L654.2,346.8 L655.6,346.4 L657.1,346.0 L658.5,345.6 L660.0,345.3 L661.5,344.9 L662.9,344.5 L664.4,344.2 L665.8,343.8 L667.3,343.5 L668.8,343.1 L670.2,342.8 L671.7,342.4 L673.2,342.1 L674.6,341.7 L676.1,341.4 L677.6,341.1 L679.0,340.7 L680.5,340.4 L682.0,340.1 L683.4,339.7 L684.9,339.4 L686.4,339.1 L687.9,338.8 L689.3,338.5 L690.8,338.2 L692.3,337.8 L693.7,337.5 L695.2,337.2 L696.7,336.9 L698.2,336.6 L699.6,336.3 L701.1,336.0 L702.6,335.6 L704.1,335.3 L705.5,335.0 L707.0,334.7 L708.5,334.3 L710.0,334.0 L711.4,333.7 L712.9,333.4 L714.4,333.1 L715.9,332.9 L717.4,332.6 L718.8,332.4 L720.3,332.1 L721.8,331.9 L723.3,331.7 L724.8,331.5 L726.3,331.4 L727.8,331.2 L729.3,331.1 L730.8,330.9 L732.3,330.8 L733.8,330.7 L735.3,330.5 L736.8,330.4 L738.3,330.3 L739.8,330.2 L741.3,330.1 L742.8,330.0 L744.3,330.0 L745.8,329.9" fill="none" stroke="#0410FC" stroke-width="4.0" stroke-linejoin="round" stroke-linecap="round"/>
<path d="M77.0,390.0 L83.9,377.8 L70.1,377.8Z" fill="#0410FC"/>
<path d="M108.0,362.6 L114.9,350.4 L101.1,350.4Z" fill="#0410FC"/>
<path d="M138.9,360.8 L145.8,348.6 L132.0,348.6Z" fill="#0410FC"/>
<path d="M169.8,360.3 L176.7,348.1 L162.9,348.1Z" fill="#0410FC"/>
<path d="M200.6,360.3 L207.5,348.1 L193.7,348.1Z" fill="#0410FC"/>
<path d="M231.5,360.9 L238.4,348.7 L224.6,348.7Z" fill="#0410FC"/>
<path d="M262.4,362.8 L269.3,350.6 L255.5,350.6Z" fill="#0410FC"/>
<path d="M293.3,365.4 L300.2,353.2 L286.4,353.2Z" fill="#0410FC"/>
<path d="M324.1,370.0 L331.0,357.8 L317.2,357.8Z" fill="#0410FC"/>
<path d="M355.0,378.0 L361.9,365.8 L348.1,365.8Z" fill="#0410FC"/>
<path d="M385.9,391.0 L392.8,378.8 L379.0,378.8Z" fill="#0410FC"/>
<path d="M416.7,414.2 L423.6,402.0 L409.8,402.0Z" fill="#0410FC"/>
<path d="M447.6,450.3 L454.5,438.1 L440.7,438.1Z" fill="#0410FC"/>
<path d="M478.5,469.3 L485.4,457.1 L471.6,457.1Z" fill="#0410FC"/>
<path d="M509.3,439.1 L516.2,426.9 L502.4,426.9Z" fill="#0410FC"/>
<path d="M540.2,407.7 L547.1,395.5 L533.3,395.5Z" fill="#0410FC"/>
<path d="M571.1,385.8 L578.0,373.6 L564.2,373.6Z" fill="#0410FC"/>
<path d="M602.0,370.9 L608.9,358.7 L595.1,358.7Z" fill="#0410FC"/>
<path d="M632.8,360.5 L639.7,348.3 L625.9,348.3Z" fill="#0410FC"/>
<path d="M663.7,352.2 L670.6,340.0 L656.8,340.0Z" fill="#0410FC"/>
<path d="M694.6,345.2 L701.5,333.0 L687.7,333.0Z" fill="#0410FC"/>
<path d="M725.4,339.3 L732.3,327.1 L718.5,327.1Z" fill="#0410FC"/>
<line x1="531.25" y1="123.5" x2="531.25" y2="149.45" stroke="#000" stroke-width="2.3" stroke-dasharray="2.4 2.31"/>
<line x1="494.4" y1="212.2" x2="494.4" y2="238.15" stroke="#000" stroke-width="2.3" stroke-dasharray="2.4 2.31"/>
<line x1="483.2" y1="355.7" x2="483.2" y2="381.65" stroke="#000" stroke-width="2.3" stroke-dasharray="2.4 2.31"/>
<line x1="471.0" y1="449.55" x2="471.0" y2="475.50" stroke="#000" stroke-width="2.3" stroke-dasharray="2.4 2.31"/>
<text transform="translate(525.7,181.7) scale(0.905,1)" font-size="31" text-anchor="middle" class="s">177</text>
<text transform="translate(497.5,268.7) scale(0.905,1)" font-size="31" text-anchor="middle" class="s">165</text>
<text transform="translate(481.4,406.9) scale(0.915,1)" font-size="32" text-anchor="middle" class="s">160</text>
<text transform="translate(471.85,506.2) scale(0.905,1)" font-size="34" text-anchor="middle" class="s">157</text>
<line x1="95.8" y1="417.0" x2="153.3" y2="417.0" stroke="#FF4606" stroke-width="3.9" stroke-linecap="round"/>
<rect x="119.0" y="411.7" width="10.6" height="10.6" fill="#FF4606"/>
<text x="160.6" y="427.7" font-size="29" class="s">EP</text>
<line x1="95.8" y1="453.3" x2="153.3" y2="453.3" stroke="#FC0A1E" stroke-width="3.9" stroke-linecap="round"/>
<circle cx="124.3" cy="453.3" r="6" fill="#FC0A1E"/>
<text x="160.6" y="463.8" font-size="29" class="s">EP/VAD-2.5</text>
<line x1="95.8" y1="489.8" x2="153.3" y2="489.8" stroke="#10F858" stroke-width="3.9" stroke-linecap="round"/>
<path d="M124.3,482.1 L131.3,494.1 L117.3,494.1Z" fill="#10F858"/>
<text x="160.6" y="499.8" font-size="29" class="s">EP/VAD-5</text>
<line x1="95.8" y1="526.2" x2="153.3" y2="526.2" stroke="#0410FC" stroke-width="3.9" stroke-linecap="round"/>
<path d="M124.3,533.9 L131.3,521.9 L117.3,521.9Z" fill="#0410FC"/>
<text x="160.6" y="536.0" font-size="29" class="s">EP/VAD-7.5</text>
<text x="415.5" y="624.9" font-size="29" text-anchor="middle" class="s b" id="xt">Temperature (°C)</text>
<text transform="translate(36.3,284.5) rotate(-90)" font-size="29.4" text-anchor="middle" class="s b" id="yt">Endothermic</text>
<line x1="53.2" y1="360.1" x2="53.2" y2="226" stroke="#000" stroke-width="2.3"/>
<path d="M53.2,213.3 L58.8,233.8 L53.2,228.3 L47.7,233.8Z" fill="#000"/>
</svg>
</body></html>
